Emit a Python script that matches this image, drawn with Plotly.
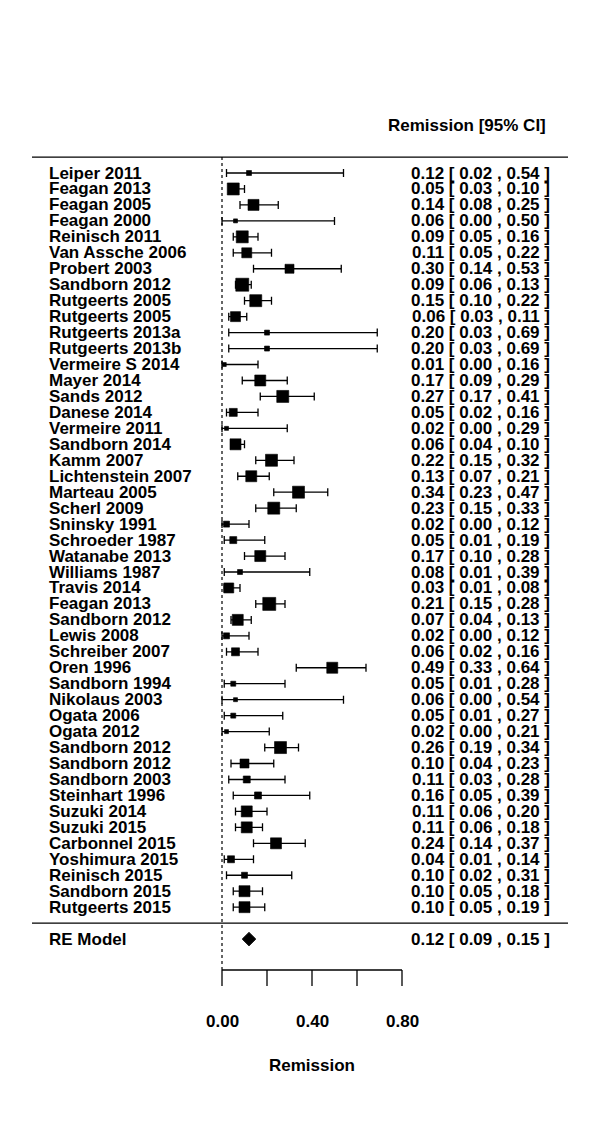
import plotly.graph_objects as go

# ---------------- data ----------------
studies = [
    "Leiper 2011", "Feagan 2013", "Feagan 2005", "Feagan 2000", "Reinisch 2011",
    "Van Assche 2006", "Probert 2003", "Sandborn 2012", "Rutgeerts 2005", "Rutgeerts 2005",
    "Rutgeerts 2013a", "Rutgeerts 2013b", "Vermeire S 2014", "Mayer 2014", "Sands 2012",
    "Danese 2014", "Vermeire 2011", "Sandborn 2014", "Kamm 2007", "Lichtenstein 2007",
    "Marteau 2005", "Scherl 2009", "Sninsky 1991", "Schroeder 1987", "Watanabe 2013",
    "Williams 1987", "Travis 2014", "Feagan 2013", "Sandborn 2012", "Lewis 2008",
    "Schreiber 2007", "Oren 1996", "Sandborn 1994", "Nikolaus 2003", "Ogata 2006",
    "Ogata 2012", "Sandborn 2012", "Sandborn 2012", "Sandborn 2003", "Steinhart 1996",
    "Suzuki 2014", "Suzuki 2015", "Carbonnel 2015", "Yoshimura 2015", "Reinisch 2015",
    "Sandborn 2015", "Rutgeerts 2015",
]
estimates = [
    0.12, 0.05, 0.14, 0.06, 0.09, 0.11, 0.30, 0.09, 0.15, 0.06,
    0.20, 0.20, 0.01, 0.17, 0.27, 0.05, 0.02, 0.06, 0.22, 0.13,
    0.34, 0.23, 0.02, 0.05, 0.17, 0.08, 0.03, 0.21, 0.07, 0.02,
    0.06, 0.49, 0.05, 0.06, 0.05, 0.02, 0.26, 0.10, 0.11, 0.16,
    0.11, 0.11, 0.24, 0.04, 0.10, 0.10, 0.10,
]
ci_lower = [
    0.02, 0.03, 0.08, 0.00, 0.05, 0.05, 0.14, 0.06, 0.10, 0.03,
    0.03, 0.03, 0.00, 0.09, 0.17, 0.02, 0.00, 0.04, 0.15, 0.07,
    0.23, 0.15, 0.00, 0.01, 0.10, 0.01, 0.01, 0.15, 0.04, 0.00,
    0.02, 0.33, 0.01, 0.00, 0.01, 0.00, 0.19, 0.04, 0.03, 0.05,
    0.06, 0.06, 0.14, 0.01, 0.02, 0.05, 0.05,
]
ci_upper = [
    0.54, 0.10, 0.25, 0.50, 0.16, 0.22, 0.53, 0.13, 0.22, 0.11,
    0.69, 0.69, 0.16, 0.29, 0.41, 0.16, 0.29, 0.10, 0.32, 0.21,
    0.47, 0.33, 0.12, 0.19, 0.28, 0.39, 0.08, 0.28, 0.13, 0.12,
    0.16, 0.64, 0.28, 0.54, 0.27, 0.21, 0.34, 0.23, 0.28, 0.39,
    0.20, 0.18, 0.37, 0.14, 0.31, 0.18, 0.19,
]
# study weight, shown as the side of the square (px)
weight_px = [
    5, 12, 11, 4, 12, 10, 9, 13, 12, 10,
    5, 5, 4, 11, 12, 8, 4, 11, 12, 11,
    12, 12, 6, 7, 11, 5, 10, 13, 11, 6,
    8, 11, 5, 4, 5, 4, 12, 9, 7, 7,
    11, 11, 11, 7, 6, 11, 11,
]
re_label = "RE Model"
re_est, re_lower, re_upper = 0.12, 0.09, 0.15
tick_vals = [0.0, 0.2, 0.4, 0.6, 0.8]
tick_text = ["0.00", "", "0.40", "", "0.80"]
header_text = "Remission [95% CI]"
axis_title = "Remission"

# ---------------- layout geometry (in reference screen pixels) ----------------
W, H = 600, 1125
PAGE_OFFSET = 8                        # default body margin of the html page
X0_PX, PX_PER_UNIT = 222, 225          # x = 0 at pixel 222, 0.8 at pixel 402
ROW0_PX, ROW_PX = 173, 15.96           # first study row at pixel 173
AXIS_PX, TICK_END_PX = 970, 986
TICKLABEL_PX, TITLE_PX, HEADER_PX = 1021, 1065, 125

def xd(px):
    return (px - X0_PX) / PX_PER_UNIT

def yd(px):
    return (px - ROW0_PX) / ROW_PX

n = len(studies)
rows = list(range(n))
re_row = n + 1
sep_row = n
top_row = -1

FONT = dict(family="Liberation Sans, Arial, sans-serif", size=17, color="black", weight="bold")
BLACK = "#000000"

fig = go.Figure()

# CI bars + squares
fig.add_trace(go.Scatter(
    x=estimates, y=rows, mode="markers",
    marker=dict(symbol="square", size=weight_px, color=BLACK, opacity=1,
                line=dict(width=0.6, color=BLACK)),
    error_x=dict(type="data", symmetric=False,
                 array=[u - e for u, e in zip(ci_upper, estimates)],
                 arrayminus=[e - l for e, l in zip(estimates, ci_lower)],
                 color=BLACK, thickness=1.3, width=4),
    cliponaxis=False, hoverinfo="skip", showlegend=False,
))

# RE model diamond
dh = 0.42
fig.add_trace(go.Scatter(
    x=[re_lower, re_est, re_upper, re_est, re_lower],
    y=[re_row, re_row - dh, re_row, re_row + dh, re_row],
    mode="lines", fill="toself", fillcolor=BLACK,
    line=dict(color=BLACK, width=1), hoverinfo="skip", showlegend=False,
))

shapes = []
for r in (top_row, sep_row):
    shapes.append(dict(type="line", xref="x", yref="y", x0=xd(32), x1=xd(568), y0=r, y1=r,
                       line=dict(color=BLACK, width=1.3)))
shapes.append(dict(type="line", xref="x", yref="y", x0=0, x1=0, y0=top_row, y1=yd(AXIS_PX),
                   line=dict(color=BLACK, width=1.2, dash="dot")))
# bottom axis: line + ticks
shapes.append(dict(type="line", xref="x", yref="y", x0=tick_vals[0], x1=tick_vals[-1],
                   y0=yd(AXIS_PX), y1=yd(AXIS_PX), line=dict(color=BLACK, width=1.3)))
for tv in tick_vals:
    shapes.append(dict(type="line", xref="x", yref="y", x0=tv, x1=tv,
                       y0=yd(AXIS_PX), y1=yd(TICK_END_PX), line=dict(color=BLACK, width=1.3)))

annotations = []
for r, s in zip(rows, studies):
    annotations.append(dict(x=xd(47), y=r, xref="x", yref="y", text=s, showarrow=False,
                            xanchor="left", yanchor="middle", font=FONT))
for r, e, l, u in zip(rows, estimates, ci_lower, ci_upper):
    annotations.append(dict(x=xd(552), y=r, xref="x", yref="y",
                            text=f"{e:.2f} [ {l:.2f} , {u:.2f} ]", showarrow=False,
                            xanchor="right", yanchor="middle", font=FONT))
annotations.append(dict(x=xd(47), y=re_row, xref="x", yref="y", text=re_label, showarrow=False,
                        xanchor="left", yanchor="middle", font=FONT))
annotations.append(dict(x=xd(552), y=re_row, xref="x", yref="y",
                        text=f"{re_est:.2f} [ {re_lower:.2f} , {re_upper:.2f} ]", showarrow=False,
                        xanchor="right", yanchor="middle", font=FONT))
annotations.append(dict(x=xd(548), y=yd(HEADER_PX), xref="x", yref="y", text=header_text,
                        showarrow=False, xanchor="right", yanchor="middle", font=FONT))
for tv, tt in zip(tick_vals, tick_text):
    if tt:
        annotations.append(dict(x=tv, y=yd(TICKLABEL_PX), xref="x", yref="y", text=tt,
                                showarrow=False, xanchor="center", yanchor="middle", font=FONT))
annotations.append(dict(x=(tick_vals[0] + tick_vals[-1]) / 2, y=yd(TITLE_PX), xref="x", yref="y",
                        text=axis_title, showarrow=False, xanchor="center", yanchor="middle",
                        font=FONT))

fig.update_layout(
    width=W, height=H,
    margin=dict(l=0, r=0, t=0, b=0, pad=0),
    paper_bgcolor="white", plot_bgcolor="white",
    xaxis=dict(range=[xd(PAGE_OFFSET), xd(PAGE_OFFSET + W)], visible=False, fixedrange=True),
    yaxis=dict(range=[yd(PAGE_OFFSET + H), yd(PAGE_OFFSET)], visible=False, fixedrange=True),
    shapes=shapes,
    annotations=annotations,
    showlegend=False,
)

fig.write_html("out.html")
